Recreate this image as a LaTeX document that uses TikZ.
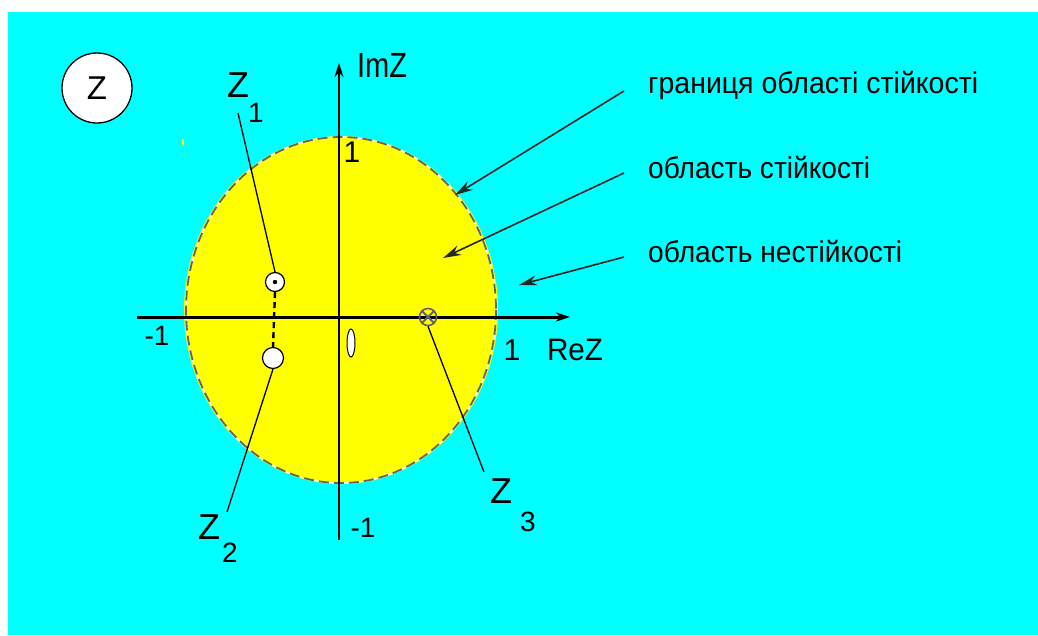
\documentclass[tikz,border=0pt]{standalone}
\usepackage{fontspec}
\usepackage{graphicx}
\setmainfont{Liberation Sans}
\usetikzlibrary{arrows.meta,shapes.geometric}
\definecolor{bgcyan}{RGB}{0,255,255}
\definecolor{yel}{RGB}{255,255,0}
\definecolor{bnd}{RGB}{100,100,100}
\newcommand\fitw[2]{\resizebox{#1}{\height}{#2}}
\begin{document}
\begin{tikzpicture}[x=1pt,y=-1pt,
  txt/.style={inner sep=0pt,font=\fontsize{30}{36}\selectfont},
  lab/.style={inner sep=0pt,font=\fontsize{#1}{#1}\selectfont},
  axis/.style={black,line width=#1,-{Stealth[length=14pt,width=9pt]}},
  ann/.style={draw=black!85,line width=1.6pt,-{Stealth[length=18pt,width=10pt]}},
  lead/.style={black,line width=1.3pt},
  pt/.style={circle,draw=black,fill=white,line width=1.2pt,minimum size=#1,inner sep=0pt}]
\useasboundingbox (0,0) rectangle (1038,635);
\fill[white] (0,0) rectangle (1038,635);
\fill[bgcyan] (8,12) rectangle (1038,635);
% stability region
\fill[yel] (341,310) ellipse [x radius=157, y radius=174];
\draw[white,line width=1.2pt] (341,310) ellipse [x radius=155, y radius=173];
\draw[bnd,line width=1.8pt,dash pattern=on 10pt off 5pt] (341,310) ellipse [x radius=155, y radius=173];
\draw[yel,line width=1.5pt] (183,139) -- (183,146);
% axes
\coordinate (xs) at (137,317);
\coordinate (xe) at (570,317);
\coordinate (ys) at (339,540);
\coordinate (ye) at (339,63);
\draw[axis=3pt] (xs) -- (xe);
\draw[axis=2pt] (ys) -- (ye);
% axis labels
\node[lab=35] (imz) at (382,65) {\fitw{50pt}{ImZ}};
\node[lab=31] (rez) at (575,350) {\fitw{56pt}{ReZ}};
\node[lab=30] (one1) at (352,152) {1};
\node[lab=30] (one2) at (512,350) {1};
\node[lab=28] (m1a) at (157,336) {-1};
\node[lab=28] (m1b) at (363,528) {-1};
\node[ellipse,draw=black,fill=white,line width=1pt,minimum width=8pt,minimum height=28pt,inner sep=0pt] (zero) at (351,343) {};
% Z label in circle
\node[circle,draw=black,fill=white,line width=1.3pt,minimum size=70pt,inner sep=0pt,lab=33] (zc) at (97,88) {Z};
% points
\node[pt=19pt] (p1) at (275,282) {};
\fill[black] (p1.center) circle (2.2pt);
\node[pt=21pt] (p2) at (273,358) {};
\node[circle,draw=bnd,line width=1.6pt,minimum size=17pt,inner sep=0pt] (p3) at (428,317) {};
\draw[bnd,line width=1.8pt] (p3.north west) -- (p3.south east) (p3.north east) -- (p3.south west);
\draw[black,line width=2.4pt,dash pattern=on 6pt off 4pt] (p1.south) -- (p2.north);
% point labels
\node[lab=36] (z1) at (238,85) {Z};
\node[lab=28] (s1) at (256,113) {1};
\node[lab=36] (z2) at (209,527) {Z};
\node[lab=28] (s2) at (230,553) {2};
\node[lab=36] (z3) at (501,491) {Z};
\node[lab=28] (s3) at (528,522) {3};
\coordinate (l1) at (238,113);
\coordinate (l2) at (227,512);
\coordinate (l3) at (484,472);
\draw[lead] (l1) -- (p1.north);
\draw[lead] (p2.south) -- (l2);
\draw[lead] (p3.south) -- (l3);
% annotations
\node[txt,anchor=base west] (t1) at (648,93) {\fitw{330pt}{границя області стійкості}};
\node[txt,anchor=base west] (t2) at (648,178) {\fitw{222pt}{область стійкості}};
\node[txt,anchor=base west] (t3) at (648,262) {\fitw{254pt}{область нестійкості}};
\coordinate (a1) at (455,195);
\coordinate (a2) at (443,258);
\coordinate (a3) at (519,285);
\draw[ann] ([xshift=-24pt,yshift=-6pt]t1.west) -- (a1);
\draw[ann] ([xshift=-24pt,yshift=-6pt]t2.west) -- (a2);
\draw[ann] ([xshift=-24pt,yshift=-6pt]t3.west) -- (a3);
\end{tikzpicture}
\end{document}
